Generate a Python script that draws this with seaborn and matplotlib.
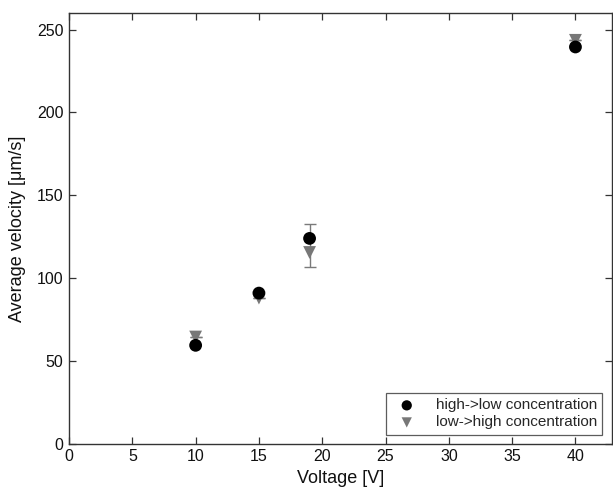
import matplotlib
matplotlib.use("Agg")
import matplotlib.pyplot as plt
import seaborn as sns
import pandas as pd

sns.set_theme(style="white")
plt.rcParams['font.family'] = ['Liberation Sans', 'DejaVu Sans']

voltage = [10, 15, 19, 40]
high_to_low = [59.5, 91.0, 124.0, 239.5]
low_to_high = [64.5, 88.0, 115.5, 243.5]
err_lower = [0, 0, 9.0, 0]
err_upper = [0, 0, 17.0, 0]
series_names = ["high->low concentration", "low->high concentration"]

df_high = pd.DataFrame({"Voltage": voltage, "Velocity": high_to_low})
df_low = pd.DataFrame({"Voltage": voltage, "Velocity": low_to_high})

fig = plt.figure(figsize=(6.13, 4.90), dpi=100)
ax = fig.add_axes([0.1126, 0.094, 0.885, 0.8795])

# error bar on the low->high series
ax.errorbar(voltage, low_to_high, yerr=[err_lower, err_upper], fmt="none",
            ecolor="#7a7a7a", elinewidth=1.0, capsize=4, capthick=1.0, zorder=1)

sns.scatterplot(data=df_low, x="Voltage", y="Velocity", color="#777777", marker="v",
                s=85, edgecolor="none", ax=ax, zorder=2, label=series_names[1])
sns.scatterplot(data=df_high, x="Voltage", y="Velocity", color="#000000", marker="o",
                s=85, edgecolor="none", ax=ax, zorder=3, label=series_names[0])

ax.set_xlim(0, 42.85)
ax.set_ylim(0, 260)
ax.set_xticks([0, 5, 10, 15, 20, 25, 30, 35, 40])
ax.set_yticks([0, 50, 100, 150, 200, 250])

for s in ax.spines.values():
    s.set_visible(True)
    s.set_color("#333333")
    s.set_linewidth(1.0)

ax.tick_params(direction="in", length=5, width=0.9, colors="#333333",
               top=True, right=True, bottom=True, left=True,
               labelsize=11.5, labelcolor="#111111", pad=4)

ax.set_xlabel("Voltage [V]", fontsize=13, color="#111111", labelpad=4)
ax.set_ylabel("Average velocity [μm/s]", fontsize=13, color="#111111", labelpad=8)

handles, labels = ax.get_legend_handles_labels()
order = [labels.index(series_names[0]), labels.index(series_names[1])]
leg = ax.legend([handles[i] for i in order], [labels[i] for i in order],
                loc="lower right", fontsize=11, frameon=True, fancybox=False,
                edgecolor="#333333", borderpad=0.35, handletextpad=0.9,
                labelspacing=0.2, borderaxespad=0.6, markerscale=0.8)
leg.get_frame().set_linewidth(0.9)

fig.savefig("out.png", dpi=100)
